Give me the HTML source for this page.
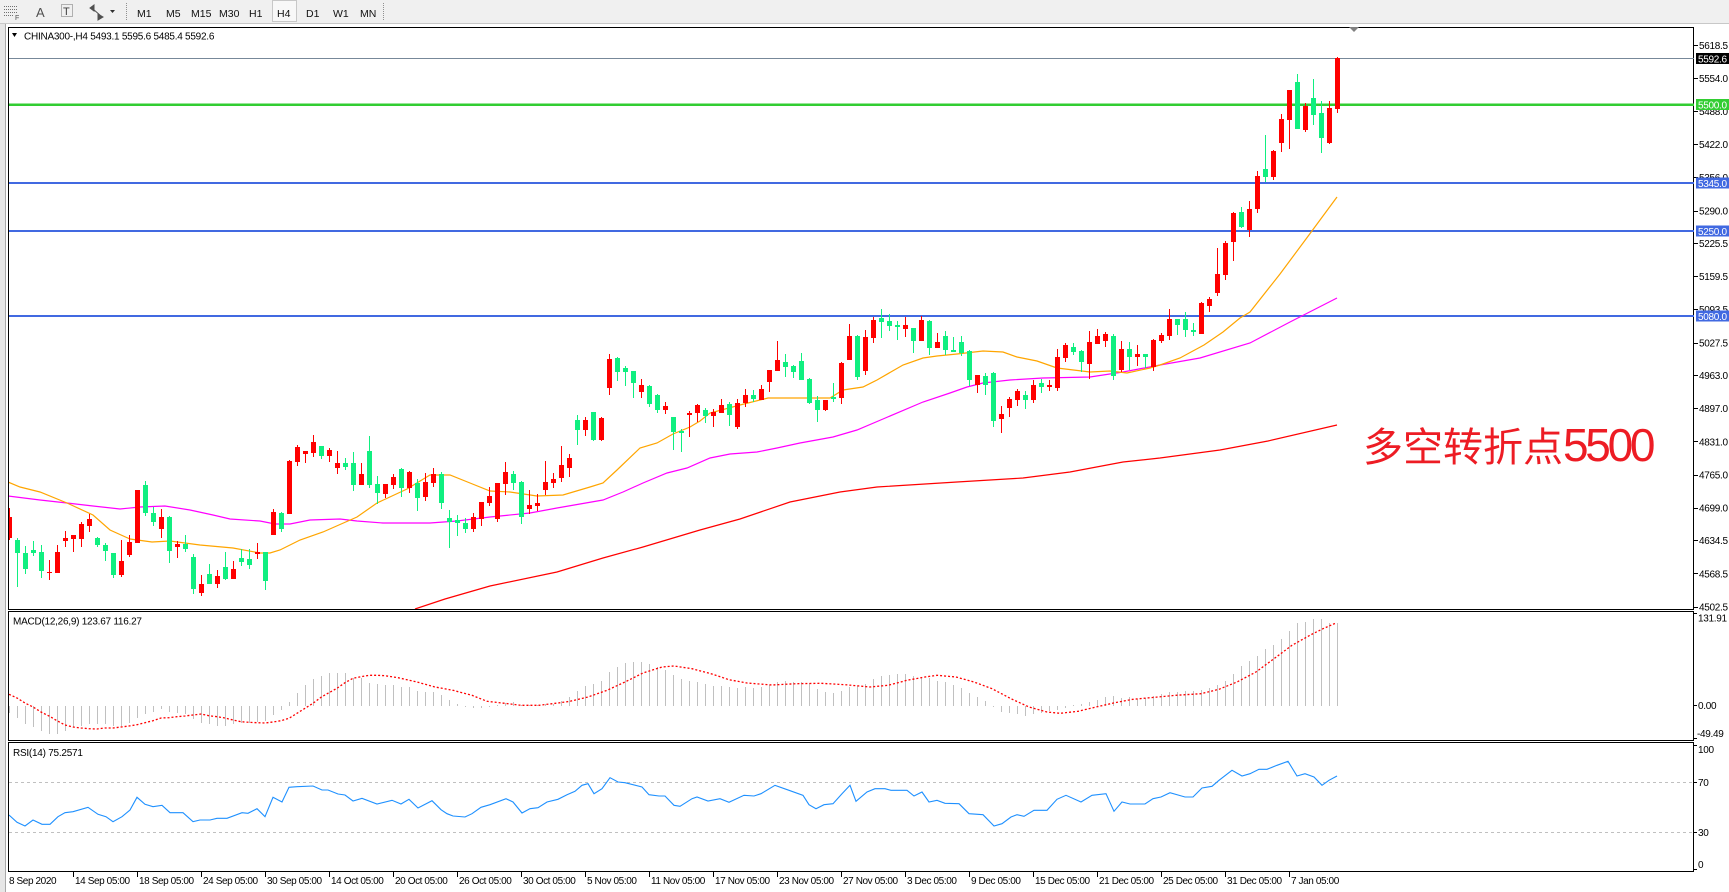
<!DOCTYPE html>
<html><head><meta charset="utf-8">
<style>
html,body{margin:0;padding:0;background:#fff;width:1729px;height:892px;overflow:hidden}
svg{display:block}
text{font-family:"Liberation Sans",sans-serif}
</style></head>
<body>
<svg width="1729" height="892" viewBox="0 0 1729 892" xmlns="http://www.w3.org/2000/svg">
<defs>
<clipPath id="cm"><rect x="9" y="28" width="1685" height="581"/></clipPath>
<clipPath id="cd"><rect x="9" y="612" width="1685" height="128"/></clipPath>
<clipPath id="cr"><rect x="9" y="743" width="1685" height="128"/></clipPath>
</defs>
<rect width="1729" height="892" fill="#fff"/>
<!-- toolbar -->
<rect x="0" y="0" width="1729" height="23" fill="#f0f0f0"/>
<line x1="0" y1="23.5" x2="1729" y2="23.5" stroke="#c8c8c8"/>
<g stroke="#707070" stroke-dasharray="1 1" shape-rendering="crispEdges">
<line x1="4" y1="6.5" x2="18" y2="6.5"/><line x1="4" y1="9.5" x2="18" y2="9.5"/><line x1="4" y1="12.5" x2="18" y2="12.5"/><line x1="4" y1="15.5" x2="14" y2="15.5"/>
</g>
<text x="15" y="20" font-size="7" fill="#505050">F</text>
<text x="36" y="17" font-size="13" fill="#505050">A</text>
<rect x="61.5" y="4.5" width="11" height="12" fill="none" stroke="#707070" stroke-dasharray="1 1"/>
<text x="63" y="15" font-size="11" fill="#404040">T</text>
<path d="M90 8l4 -3l0 6z M98 14l5 3l-5 3z M93 9l8 7" fill="#505050" stroke="#505050"/>
<path d="M110 10h5l-2.5 3z" fill="#303030"/>
<line x1="126.5" y1="3" x2="126.5" y2="20" stroke="#909090" stroke-dasharray="1 1"/>
<rect x="272.5" y="0.5" width="24" height="21" fill="#f8f8f8" stroke="#c8c8c8"/>
<g font-size="10.5" fill="#101010">
<text x="137" y="17">M1</text><text x="166" y="17">M5</text><text x="191" y="17">M15</text><text x="219" y="17">M30</text><text x="249" y="17">H1</text><text x="277" y="17">H4</text><text x="306" y="17">D1</text><text x="333" y="17">W1</text><text x="360" y="17">MN</text>
</g>
<line x1="383.5" y1="3" x2="383.5" y2="20" stroke="#909090" stroke-dasharray="1 1"/>
<!-- left strip -->
<rect x="0" y="24" width="6" height="868" fill="#e6e6e6"/>
<line x1="5.5" y1="24" x2="5.5" y2="892" stroke="#a8a8a8"/>
<!-- panel frames -->
<g fill="none" stroke="#000" shape-rendering="crispEdges">
<rect x="8.5" y="27.5" width="1685" height="582"/>
<rect x="8.5" y="611.5" width="1685" height="129"/>
<rect x="8.5" y="742.5" width="1685" height="129"/>
</g>
<!-- chart shift marker -->
<path d="M1349 27h10l-5 5z" fill="#808080"/>
<!-- horizontal levels -->
<g shape-rendering="crispEdges">
<line x1="9" y1="58.5" x2="1694" y2="58.5" stroke="#778899"/>
<line x1="9" y1="104.5" x2="1694" y2="104.5" stroke="#32cd32" stroke-width="2.5"/>
<line x1="9" y1="183" x2="1694" y2="183" stroke="#4169e1" stroke-width="2"/>
<line x1="9" y1="231" x2="1694" y2="231" stroke="#4169e1" stroke-width="2"/>
<line x1="9" y1="316" x2="1694" y2="316" stroke="#4169e1" stroke-width="2"/>
</g>
<!-- moving averages -->
<g clip-path="url(#cm)" fill="none" stroke-width="1.2">
<polyline stroke="#ff0000" points="415,609 445,599 490,586 557,572 603,558 643,547 700,530 740,519 790,502 840,492 877,487 957,482 1023,478 1070,472 1123,462 1160,458 1220,450 1268,441 1337,425"/>
<polyline stroke="#ff00ff" points="8,496 40,500 67,503 93,506 120,509 140,507 165,506 190,510 213,515 230,519 260,521 275,524 290,524 310,520 340,519 357,521 383,523 430,523 457,521 490,517 530,513 557,508 603,500 623,492 643,483 667,473 687,468 710,458 730,454 757,452 777,448 800,443 833,437 857,430 883,419 923,402 950,393 967,387 983,383 1010,380 1043,378 1090,377 1123,372 1160,365 1200,358 1250,343 1290,322 1337,298"/>
<polyline stroke="#ffa500" points="8,482 20,487 40,492 67,503 93,515 110,530 130,539 152,542 170,541 200,545 233,548 260,553 270,553 280,550 290,545 300,540 323,532 357,517 377,503 407,489 430,475 450,475 470,483 490,491 510,492 537,496 563,495 590,487 603,483 617,470 640,448 657,443 673,434 690,427 700,421 710,413 740,405 768,398 790,398 830,398 843,390 863,387 877,380 903,365 923,358 937,356 957,354 983,351 1003,352 1017,357 1037,361 1057,368 1090,372 1110,371 1127,373 1150,368 1160,365 1180,358 1204,345 1223,332 1240,318 1250,312 1280,274 1306,239 1337,197"/>
</g>
<!-- candles -->
<g clip-path="url(#cm)" shape-rendering="crispEdges">
<path fill="none" stroke="#ff0000" d="M9.5 508V540 M49.5 560V580 M57.5 545V573 M65.5 531V547 M73.5 535V552 M81.5 522V547 M89.5 514V532 M121.5 540V577 M129.5 535V557 M137.5 490V543 M161.5 509V538 M177.5 541V558 M201.5 575V596 M217.5 570V588 M233.5 561V579 M257.5 543V559 M273.5 509V535 M289.5 460V514 M297.5 445V466 M305.5 451V463 M313.5 435V457 M329.5 448V462 M337.5 451V474 M361.5 463V485 M385.5 484V498 M393.5 474V489 M409.5 471V493 M425.5 473V501 M433.5 468V487 M473.5 513V532 M481.5 502V526 M489.5 487V506 M497.5 483V522 M505.5 462V495 M529.5 490V514 M537.5 494V511 M545.5 461V495 M553.5 473V488 M561.5 446V482 M569.5 454V477 M585.5 417V436 M601.5 417V441 M609.5 354V395 M641.5 379V398 M665.5 402V414 M689.5 411V437 M697.5 404V422 M713.5 409V427 M721.5 399V413 M737.5 399V429 M745.5 389V407 M761.5 385V400 M769.5 370V392 M777.5 341V371 M825.5 400V411 M841.5 362V404 M849.5 324V360 M865.5 330V375 M873.5 317V343 M905.5 317V337 M921.5 316V341 M937.5 333V348 M977.5 375V393 M1001.5 406V433 M1009.5 397V417 M1017.5 389V406 M1033.5 380V403 M1049.5 380V391 M1057.5 349V391 M1065.5 343V362 M1089.5 331V379 M1097.5 329V344 M1105.5 332V347 M1121.5 341V372 M1137.5 345V366 M1153.5 339V371 M1161.5 333V343 M1169.5 309V340 M1201.5 302V334 M1209.5 297V312 M1217.5 248V296 M1225.5 241V280 M1233.5 212V261 M1249.5 201V237 M1257.5 171V213 M1273.5 150V180 M1281.5 114V152 M1289.5 90V149 M1305.5 103V132 M1329.5 101V144 M1337.5 57V113"/>
<path fill="#ff0000" d="M7 517h5v21h-5z M47 572h5v1h-5z M55 552h5v21h-5z M63 538h5v3h-5z M71 535h5v4h-5z M79 524h5v15h-5z M87 519h5v7h-5z M119 561h5v14h-5z M127 542h5v13h-5z M135 490h5v53h-5z M159 517h5v12h-5z M175 544h5v3h-5z M199 584h5v9h-5z M215 576h5v8h-5z M231 569h5v10h-5z M255 552h5v2h-5z M271 512h5v23h-5z M287 461h5v53h-5z M295 447h5v15h-5z M303 451h5v3h-5z M311 442h5v11h-5z M327 450h5v6h-5z M335 463h5v5h-5z M359 474h5v11h-5z M383 484h5v10h-5z M391 477h5v8h-5z M407 472h5v16h-5z M423 482h5v15h-5z M431 474h5v9h-5z M471 517h5v12h-5z M479 502h5v17h-5z M487 496h5v7h-5z M495 483h5v36h-5z M503 472h5v12h-5z M527 505h5v4h-5z M535 503h5v3h-5z M543 482h5v8h-5z M551 479h5v4h-5z M559 465h5v13h-5z M567 458h5v10h-5z M583 420h5v10h-5z M599 418h5v22h-5z M607 359h5v29h-5z M639 385h5v7h-5z M663 406h5v4h-5z M687 413h5v2h-5z M695 405h5v8h-5z M711 412h5v4h-5z M719 405h5v8h-5z M735 403h5v24h-5z M743 395h5v8h-5z M759 389h5v11h-5z M767 370h5v12h-5z M775 360h5v11h-5z M823 400h5v10h-5z M839 363h5v35h-5z M847 336h5v24h-5z M863 337h5v34h-5z M871 320h5v18h-5z M903 325h5v4h-5z M919 320h5v21h-5z M935 342h5v6h-5z M975 375h5v10h-5z M999 414h5v5h-5z M1007 399h5v9h-5z M1015 391h5v9h-5z M1031 385h5v15h-5z M1047 385h5v2h-5z M1055 357h5v31h-5z M1063 345h5v13h-5z M1087 342h5v22h-5z M1095 336h5v8h-5z M1103 334h5v7h-5z M1119 349h5v21h-5z M1135 354h5v3h-5z M1151 340h5v27h-5z M1159 335h5v6h-5z M1167 319h5v17h-5z M1199 303h5v31h-5z M1207 299h5v7h-5z M1215 274h5v19h-5z M1223 243h5v32h-5z M1231 213h5v29h-5z M1247 209h5v21h-5z M1255 176h5v33h-5z M1271 151h5v26h-5z M1279 119h5v24h-5z M1287 90h5v30h-5z M1303 106h5v24h-5z M1327 108h5v35h-5z M1335 58h5v51h-5z"/>
<path fill="none" stroke="#10ef80" d="M17.5 538V587 M25.5 546V574 M33.5 541V556 M41.5 545V578 M97.5 537V547 M105.5 543V561 M113.5 553V578 M145.5 481V516 M153.5 507V526 M169.5 516V563 M185.5 535V552 M193.5 554V594 M209.5 564V584 M225.5 552V580 M241.5 549V566 M249.5 549V569 M265.5 552V590 M281.5 512V532 M321.5 446V459 M345.5 458V470 M353.5 452V491 M369.5 436V488 M377.5 476V504 M401.5 468V497 M417.5 479V511 M441.5 472V509 M449.5 510V548 M457.5 515V536 M465.5 518V533 M513.5 471V490 M521.5 481V524 M577.5 415V445 M593.5 412V441 M617.5 357V381 M625.5 366V386 M633.5 371V398 M649.5 385V407 M657.5 394V413 M673.5 417V450 M681.5 429V452 M705.5 408V423 M729.5 402V426 M753.5 390V402 M785.5 354V377 M793.5 365V378 M801.5 353V380 M809.5 378V404 M817.5 396V422 M833.5 383V402 M857.5 335V380 M881.5 309V338 M889.5 314V331 M897.5 321V340 M913.5 328V353 M929.5 320V355 M945.5 331V355 M953.5 337V352 M961.5 336V356 M969.5 350V386 M985.5 373V395 M993.5 372V427 M1025.5 391V409 M1041.5 379V393 M1073.5 343V355 M1081.5 350V372 M1113.5 334V380 M1129.5 342V370 M1145.5 354V368 M1177.5 319V335 M1185.5 312V337 M1193.5 323V336 M1241.5 207V228 M1265.5 135V182 M1297.5 74V129 M1313.5 79V125 M1321.5 101V153"/>
<path fill="#10ef80" d="M15 540h5v13h-5z M23 553h5v16h-5z M31 550h5v3h-5z M39 552h5v19h-5z M95 538h5v7h-5z M103 545h5v6h-5z M111 553h5v22h-5z M143 485h5v28h-5z M151 513h5v9h-5z M167 517h5v34h-5z M183 544h5v5h-5z M191 557h5v32h-5z M207 574h5v10h-5z M223 567h5v12h-5z M239 558h5v4h-5z M247 559h5v6h-5z M263 552h5v29h-5z M279 513h5v16h-5z M319 446h5v10h-5z M343 463h5v4h-5z M351 463h5v22h-5z M367 451h5v34h-5z M375 484h5v9h-5z M399 469h5v19h-5z M415 483h5v15h-5z M439 474h5v29h-5z M447 518h5v4h-5z M455 520h5v3h-5z M463 523h5v6h-5z M511 474h5v9h-5z M519 482h5v35h-5z M575 420h5v10h-5z M591 412h5v28h-5z M615 358h5v14h-5z M623 368h5v4h-5z M631 371h5v12h-5z M647 386h5v18h-5z M655 395h5v15h-5z M671 417h5v15h-5z M679 431h5v2h-5z M703 410h5v6h-5z M727 404h5v11h-5z M751 395h5v4h-5z M783 362h5v5h-5z M791 366h5v6h-5z M799 361h5v19h-5z M807 379h5v24h-5z M815 400h5v10h-5z M831 397h5v2h-5z M855 336h5v41h-5z M879 318h5v4h-5z M887 321h5v5h-5z M895 325h5v2h-5z M911 328h5v13h-5z M927 321h5v27h-5z M943 336h5v14h-5z M951 350h5v2h-5z M959 342h5v11h-5z M967 351h5v29h-5z M983 376h5v9h-5z M991 373h5v48h-5z M1023 395h5v5h-5z M1039 383h5v4h-5z M1071 347h5v5h-5z M1079 351h5v11h-5z M1111 336h5v40h-5z M1127 349h5v8h-5z M1143 354h5v3h-5z M1175 319h5v6h-5z M1183 319h5v11h-5z M1191 330h5v2h-5z M1239 212h5v15h-5z M1263 169h5v8h-5z M1295 82h5v47h-5z M1311 98h5v17h-5z M1319 113h5v25h-5z"/>
</g>
<!-- title -->
<path d="M12 33h5l-2.5 4z" fill="#000"/>
<text x="24" y="39.5" font-size="10" letter-spacing="-0.25" fill="#000">CHINA300-,H4  5493.1 5595.6 5485.4 5592.6</text>
<!-- annotation -->
<text x="1363" y="461" font-size="40" fill="#ed1c24" font-family="'Liberation Sans','Noto Sans CJK SC',sans-serif">多空转折点<tspan font-size="46" letter-spacing="-3.3">5500</tspan></text>
<!-- price axis -->
<g stroke="#000" shape-rendering="crispEdges">
<path d="M1694 45.5h4 M1694 78.5h4 M1694 111.5h4 M1694 144.5h4 M1694 177.5h4 M1694 211.5h4 M1694 243.5h4 M1694 276.5h4 M1694 309.5h4 M1694 343.5h4 M1694 375.5h4 M1694 408.5h4 M1694 441.5h4 M1694 475.5h4 M1694 508.5h4 M1694 540.5h4 M1694 573.5h4 M1694 607.5h4"/>
</g>
<g font-size="10" letter-spacing="-0.3" fill="#000">
<text x="1699" y="49">5618.5</text><text x="1699" y="82">5554.0</text><text x="1699" y="115">5488.0</text><text x="1699" y="148">5422.0</text><text x="1699" y="181">5356.0</text><text x="1699" y="214.5">5290.0</text><text x="1699" y="247">5225.5</text><text x="1699" y="280">5159.5</text><text x="1699" y="313">5093.5</text><text x="1699" y="346.5">5027.5</text><text x="1699" y="379">4963.0</text><text x="1699" y="412">4897.0</text><text x="1699" y="445.5">4831.0</text><text x="1699" y="478.5">4765.0</text><text x="1699" y="511.5">4699.0</text><text x="1699" y="544">4634.5</text><text x="1699" y="577.5">4568.5</text><text x="1699" y="610.5">4502.5</text>
</g>
<!-- price tags -->
<rect x="1696" y="53" width="33" height="11" fill="#000"/>
<rect x="1696" y="99" width="33" height="11" fill="#32cd32"/>
<rect x="1696" y="177.5" width="33" height="11" fill="#4169e1"/>
<rect x="1696" y="225.5" width="33" height="11" fill="#4169e1"/>
<rect x="1696" y="310.5" width="33" height="11" fill="#4169e1"/>
<g font-size="10" letter-spacing="-0.3" fill="#fff">
<text x="1698" y="62.5">5592.6</text><text x="1698" y="108.5">5500.0</text><text x="1698" y="187">5345.0</text><text x="1698" y="235">5250.0</text><text x="1698" y="320">5080.0</text>
</g>
<!-- MACD -->
<g clip-path="url(#cd)">
<path fill="none" stroke="#c0c0c0" shape-rendering="crispEdges" d="M9.5 706V713 M17.5 706V718 M25.5 706V724 M33.5 706V727 M41.5 706V731 M49.5 706V734 M57.5 706V734 M65.5 706V731 M73.5 706V727 M81.5 706V726 M89.5 706V724 M97.5 706V724 M105.5 706V724 M113.5 706V726 M121.5 706V726 M129.5 706V723 M137.5 706V718 M145.5 706V714 M153.5 706V712 M161.5 706V709 M169.5 706V712 M177.5 706V713 M185.5 706V714 M193.5 706V719 M201.5 706V723 M209.5 706V724 M217.5 706V726 M225.5 706V726 M233.5 706V724 M241.5 706V723 M249.5 706V723 M257.5 706V722 M265.5 706V721 M273.5 706V715 M281.5 706V710 M289.5 706V702 M297.5 706V693 M305.5 706V685 M313.5 706V679 M321.5 706V676 M329.5 706V673 M337.5 706V673 M345.5 706V673 M353.5 706V678 M361.5 706V678 M369.5 706V683 M377.5 706V684 M385.5 706V685 M393.5 706V685 M401.5 706V687 M409.5 706V687 M417.5 706V691 M425.5 706V692 M433.5 706V692 M441.5 706V695 M449.5 706V700 M457.5 706V704 M465.5 706V707 M473.5 706V708 M481.5 706V708 M489.5 706V707 M497.5 706V705 M505.5 706V703 M513.5 706V702 M521.5 706V705 M529.5 706V705 M537.5 706V705 M545.5 706V704 M553.5 706V704 M561.5 706V701 M569.5 706V697 M577.5 706V691 M585.5 706V686 M593.5 706V684 M601.5 706V681 M609.5 706V672 M617.5 706V667 M625.5 706V663 M633.5 706V662 M641.5 706V662 M649.5 706V664 M657.5 706V667 M665.5 706V670 M673.5 706V675 M681.5 706V679 M689.5 706V681 M697.5 706V682 M705.5 706V684 M713.5 706V686 M721.5 706V686 M729.5 706V687 M737.5 706V688 M745.5 706V687 M753.5 706V688 M761.5 706V687 M769.5 706V685 M777.5 706V682 M785.5 706V681 M793.5 706V682 M801.5 706V682 M809.5 706V683 M817.5 706V689 M825.5 706V692 M833.5 706V693 M841.5 706V691 M849.5 706V687 M857.5 706V686 M865.5 706V684 M873.5 706V679 M881.5 706V676 M889.5 706V675 M897.5 706V674 M905.5 706V674 M913.5 706V676 M921.5 706V677 M929.5 706V678 M937.5 706V681 M945.5 706V682 M953.5 706V685 M961.5 706V688 M969.5 706V693 M977.5 706V697 M985.5 706V701 M993.5 706V707 M1001.5 706V712 M1009.5 706V713 M1017.5 706V714 M1025.5 706V716 M1033.5 706V714 M1041.5 706V713 M1049.5 706V711 M1057.5 706V710 M1065.5 706V708 M1073.5 706V705 M1081.5 706V704 M1089.5 706V702 M1097.5 706V700 M1105.5 706V697 M1113.5 706V696 M1121.5 706V698 M1129.5 706V697 M1137.5 706V699 M1145.5 706V698 M1153.5 706V696 M1161.5 706V694 M1169.5 706V692 M1177.5 706V692 M1185.5 706V691 M1193.5 706V691 M1201.5 706V690 M1209.5 706V688 M1217.5 706V685 M1225.5 706V681 M1233.5 706V674 M1241.5 706V666 M1249.5 706V661 M1257.5 706V656 M1265.5 706V649 M1273.5 706V645 M1281.5 706V639 M1289.5 706V631 M1297.5 706V623 M1305.5 706V622 M1313.5 706V619 M1321.5 706V619 M1329.5 706V623 M1337.5 706V623"/>
<polyline fill="none" stroke="#ff0000" stroke-width="1.3" stroke-dasharray="2 2" points="9,694.3 17,698 25,703 33,707 41,712 49,716 57,720.7 65,725 73,727 81,728 89,728.7 97,729 105,728 113,728 121,727 129,726 137,724.7 145,722.7 153,720.7 161,718 169,717.7 177,716.7 185,716 193,715 201,714 209,715.7 217,716.7 225,718 233,720 241,721.7 249,722.3 257,722.7 265,723 273,722 281,720.7 289,718.3 297,713.3 305,708.3 313,703.3 321,697.3 329,692.7 337,688.3 345,682.7 353,678.3 361,676.7 369,675.3 377,675.3 385,675.7 398,677.7 417,682 435,687 453,690.3 472,695.3 487,701.3 502,703 521,705.3 539,705.3 558,703 570,701.3 588,697 607,690.3 625,682 643,673 662,667 674,666 692,668.7 711,673.7 729,679.7 747,683 772,685 796,683.7 821,683.3 845,684.7 870,687 888,685.3 907,680.3 925,677 937,675.3 956,677 974,682 992,688.7 1011,698.7 1029,707 1047,712 1060,713.3 1078,711.3 1096,707 1115,702.7 1133,699.3 1158,697 1176,695.3 1201,693.7 1219,689.3 1237,682 1256,672 1274,658.7 1292,645.3 1311,634.7 1323,628.7 1336,623"/>
</g>
<text x="13" y="624.5" font-size="10" letter-spacing="-0.25" fill="#000">MACD(12,26,9) 123.67 116.27</text>
<g stroke="#000" shape-rendering="crispEdges"><path d="M1694 613.5h3 M1694 705.5h3 M1694 738.5h3"/></g>
<g font-size="10" letter-spacing="-0.3" fill="#000">
<text x="1698" y="621.5">131.91</text><text x="1698" y="709">0.00</text><text x="1697" y="737">-49.49</text>
</g>
<!-- RSI -->
<g shape-rendering="crispEdges" stroke="#c0c0c0" stroke-dasharray="3 3">
<line x1="9" y1="782.5" x2="1694" y2="782.5"/><line x1="9" y1="832.5" x2="1694" y2="832.5"/>
</g>
<g clip-path="url(#cr)">
<polyline fill="none" stroke="#1e90ff" stroke-width="1.1" points="9,815 17,822.3 25,826 33,820 42,824.3 50,824.3 58,816.7 65,812.7 73,811.7 88,807.3 98,814.3 106,816.7 113,821.7 122,816.7 130,810 137,797.3 145,804.3 153,806.7 162,805.3 170,812.7 183,812.7 193,821.7 200,820 210,820 217,818.3 227,818.3 242,812.7 248,813.3 257,808.7 265,816.7 273,797.3 282,802 289,787.3 297,786.7 313,786 322,790 328,790 338,794 345,795 353,801 362,798.3 377,804 392,800.3 401,804 409,799.3 418,808 432,800.7 441,809.7 447,813.7 453,816 465,817 472,813.7 481,807.3 490,804.7 506,798.7 513,802 522,813 530,808.7 538,807.7 547,802 558,799.3 567,794.7 575,791.3 582,785.3 588,783.7 594,793.7 602,788.7 610,777.7 618,782 625,782.7 642,787 649,794.7 659,796 665,796 674,805.3 680,806.3 692,798.7 697,797 708,801 720,798.7 729,802.3 744,795.3 754,796 761,793.7 775,785.3 789,790.3 803,795.3 809,804.7 816,808.7 824,804.7 833,803.7 842,793.7 850,785.3 856,801.3 867,792 875,788.7 885,788.7 891,790.3 907,790.3 914,796 922,792 929,802 937,800.3 945,803.3 959,803.7 969,813.7 983,814.7 994,826 1002,823.7 1011,817 1017,814.7 1024,816.3 1034,810.3 1047,810.3 1057,799.3 1066,795.3 1081,802 1092,795.3 1106,793.7 1114,811.3 1122,802 1130,804 1145,804 1153,798.7 1161,797 1170,792.7 1185,797 1193,797 1202,788 1212,786.3 1219,780.3 1232,770.3 1242,776 1250,773.7 1259,769.3 1267,769.3 1277,765.3 1288,761.3 1297,776 1305,773.7 1314,777 1322,785.3 1329,780.3 1337,776"/>
</g>
<text x="13" y="756" font-size="10" letter-spacing="-0.25" fill="#000">RSI(14) 75.2571</text>
<g stroke="#000" shape-rendering="crispEdges"><path d="M1694 745.5h3 M1694 782.5h3 M1694 832.5h3 M1694 869.5h3"/></g>
<g font-size="10" letter-spacing="-0.3" fill="#000">
<text x="1698" y="753">100</text><text x="1698" y="786">70</text><text x="1698" y="836">30</text><text x="1698" y="868">0</text>
</g>
<!-- time axis -->
<g stroke="#000" shape-rendering="crispEdges">
<path d="M73.5 872v5 M137.5 872v5 M201.5 872v5 M265.5 872v5 M329.5 872v5 M393.5 872v5 M457.5 872v5 M521.5 872v5 M585.5 872v5 M649.5 872v5 M713.5 872v5 M777.5 872v5 M841.5 872v5 M905.5 872v5 M969.5 872v5 M1033.5 872v5 M1097.5 872v5 M1161.5 872v5 M1225.5 872v5 M1289.5 872v5"/>
</g>
<g font-size="10" letter-spacing="-0.4" fill="#000">
<text x="9" y="884">8 Sep 2020</text>
<text x="75" y="884">14 Sep 05:00</text>
<text x="139" y="884">18 Sep 05:00</text>
<text x="203" y="884">24 Sep 05:00</text>
<text x="267" y="884">30 Sep 05:00</text>
<text x="331" y="884">14 Oct 05:00</text>
<text x="395" y="884">20 Oct 05:00</text>
<text x="459" y="884">26 Oct 05:00</text>
<text x="523" y="884">30 Oct 05:00</text>
<text x="587" y="884">5 Nov 05:00</text>
<text x="651" y="884">11 Nov 05:00</text>
<text x="715" y="884">17 Nov 05:00</text>
<text x="779" y="884">23 Nov 05:00</text>
<text x="843" y="884">27 Nov 05:00</text>
<text x="907" y="884">3 Dec 05:00</text>
<text x="971" y="884">9 Dec 05:00</text>
<text x="1035" y="884">15 Dec 05:00</text>
<text x="1099" y="884">21 Dec 05:00</text>
<text x="1163" y="884">25 Dec 05:00</text>
<text x="1227" y="884">31 Dec 05:00</text>
<text x="1291" y="884">7 Jan 05:00</text>
</g>
</svg>
</body></html>
